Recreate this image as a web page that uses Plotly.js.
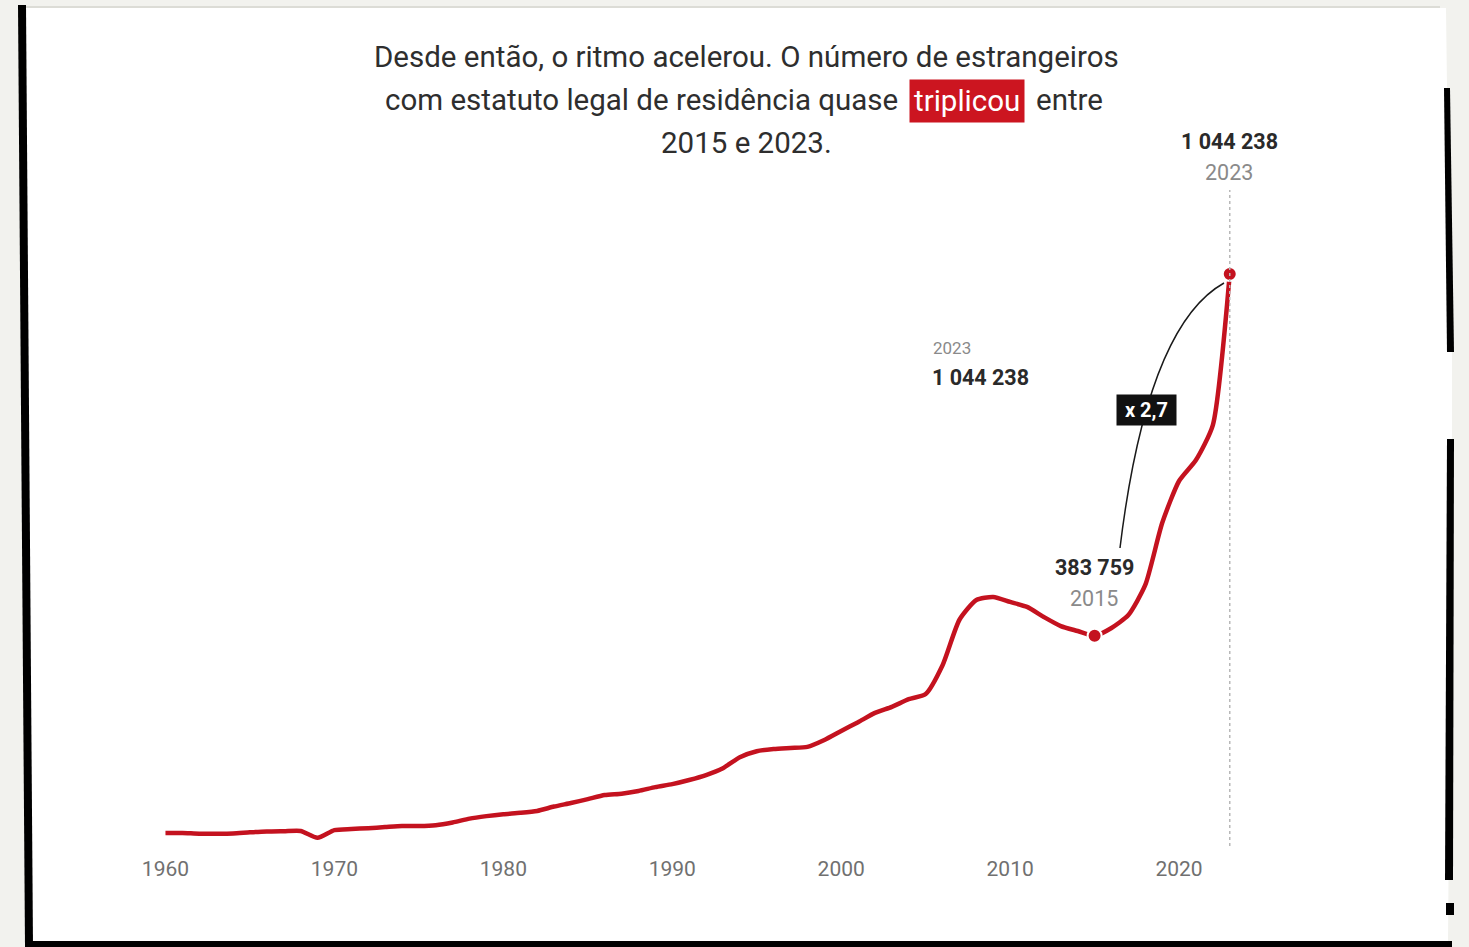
<!DOCTYPE html>
<html>
<head>
<meta charset="utf-8">
<script src="https://cdn.plot.ly/plotly-3.0.1.min.js"></script>
<style>
  html, body { margin: 0; padding: 0; background: #f2f2ee; }
  #chart { width: 1469px; height: 947px; }
</style>
</head>
<body>
<div id="chart"></div>
<script>
// ---- data ----
const years = [
  1960,1961,1962,1963,1964,1965,1966,1967,1968,1969,
  1970,1971,1972,1973,1974,1975,1976,1977,1978,1979,
  1980,1981,1982,1983,1984,1985,1986,1987,1988,1989,
  1990,1991,1992,1993,1994,1995,1996,1997,1998,1999,
  2000,2001,2002,2003,2004,2005,2006,2007,2008,2009,
  2010,2011,2012,2013,2014,2015,2016,2017,2018,2019,
  2020,2021,2022,2023
];
const foreigners = [
  23700,23700,22500,22500,23000,25000,26500,27000,27500,15000,
  29000,31000,32500,34500,36500,36500,38000,43000,50000,54500,
  58000,60500,64000,72000,78500,85500,93000,95500,100500,107500,
  113000,120500,129500,142000,162000,173000,177000,179000,181000,193500,
  210000,226000,243000,254000,268000,277500,330000,413000,449000,454500,
  445500,436500,418000,401500,392500,383759,398000,421700,476500,589600,
  666300,704600,768500,1044238
];
const tickYears = [1960,1970,1980,1990,2000,2010,2020];
const highlightYears = [2015, 2023];
const titleLine1 = "Desde então, o ritmo acelerou. O número de estrangeiros";
const titleLine2a = "com estatuto legal de residência quase";
const titleHighlight = "triplicou";
const titleLine2b = "entre";
const titleLine3 = "2015 e 2023.";
const ratioLabel = "x 2,7";

// ---- helpers ----
const W = 1469, H = 947;
const M = {l: 81, r: 121, t: 216, b: 93};
const PW = W - M.l - M.r, PH = H - M.t - M.b;
const px = x => (x - M.l) / PW;          // pixel x -> paper
const py = y => (H - M.b - y) / PH;      // pixel y -> paper
const fmt = v => String(Math.round(v)).replace(/\B(?=(\d{3})+(?!\d))/g, " ");
const valueOf = yr => foreigners[years.indexOf(yr)];

const FONT = "Roboto, Arial, sans-serif";
const RED = "#c4121f";

const hiVals = highlightYears.map(valueOf);

const traces = [
  {
    x: years, y: foreigners, type: "scatter", mode: "lines",
    line: {color: RED, width: 4.5, shape: "spline", smoothing: 0.6},
    hoverinfo: "x+y", showlegend: false
  },
  {
    x: highlightYears, y: hiVals, type: "scatter", mode: "markers",
    marker: {color: RED, size: 14, line: {color: "#ffffff", width: 2}},
    hoverinfo: "x+y", showlegend: false, cliponaxis: false
  }
];

function poly(pts, color) {
  return {
    type: "path", xref: "paper", yref: "paper", layer: "below",
    path: "M " + pts.map(p => px(p[0]) + "," + py(p[1])).join(" L ") + " Z",
    fillcolor: color, line: {width: 0}
  };
}

const shapes = [
  // white sheet
  poly([[26,8],[1446,8],[1447,88],[1452,352],[1452,438],[1448,941],[27,941]], "#ffffff"),
  // thin grey top edge
  poly([[26,6],[1440,6],[1440,8],[26,8]], "#dcdcd6"),
  // left black border
  poly([[18,5],[26,5],[33,947],[25,947]], "#000000"),
  // bottom black border
  poly([[25,941],[1452,941],[1452,947],[25,947]], "#000000"),
  // right black border pieces
  poly([[1444,88],[1450,88],[1454,352],[1447,352]], "#000000"),
  poly([[1447,439],[1454,439],[1453,880],[1445,880]], "#000000"),
  poly([[1446,903],[1454,903],[1454,915],[1446,915]], "#000000"),
  // dotted guide at the last year
  {
    type: "line", xref: "x", yref: "paper",
    x0: years[years.length - 1], x1: years[years.length - 1],
    y0: py(846), y1: py(190),
    line: {color: "#b8b8b8", width: 1.5, dash: "dot"}
  },
  // connector curve between 2015 and 2023 labels
  {
    type: "path", xref: "paper", yref: "paper",
    path: "M " + px(1120) + "," + py(548) + " Q " + px(1147) + "," + py(326) + " " + px(1224) + "," + py(283),
    line: {color: "#1a1a1a", width: 1.5}
  }
];

function ann(text, x, y, opts) {
  return Object.assign({
    text: text, xref: "paper", yref: "paper", x: px(x), y: py(y),
    xanchor: "center", yanchor: "middle", showarrow: false,
    font: {family: FONT, size: 29.5, color: "#2e2e2e"}
  }, opts || {});
}

const annotations = [
  ann(titleLine1, 746, 57),
  ann(titleLine2a, 900, 100, {xanchor: "right"}),
  ann(titleHighlight, 967, 101, {bgcolor: "#cc1520", borderpad: 4,
      font: {family: FONT, size: 29.5, color: "#ffffff"}}),
  ann(titleLine2b, 1034, 100, {xanchor: "left"}),
  ann(titleLine3, 746, 143),

  ann("<b>" + fmt(hiVals[1]) + "</b>", 1229, 141, {font: {family: FONT, size: 21.5, color: "#2a2a2a"}}),
  ann(String(highlightYears[1]), 1229, 172, {font: {family: FONT, size: 21.5, color: "#8a8a8a"}}),

  ann(String(highlightYears[1]), 931, 348, {xanchor: "left", font: {family: FONT, size: 17, color: "#8a8a8a"}}),
  ann("<b>" + fmt(hiVals[1]) + "</b>", 930, 377, {xanchor: "left", font: {family: FONT, size: 21.5, color: "#2a2a2a"}}),

  ann("<b>" + fmt(hiVals[0]) + "</b>", 1094, 567, {font: {family: FONT, size: 21.5, color: "#2a2a2a"}}),
  ann(String(highlightYears[0]), 1094, 598, {font: {family: FONT, size: 21.5, color: "#8a8a8a"}}),

  ann("<b>&nbsp;" + ratioLabel + "&nbsp;</b>", 1146, 410, {bgcolor: "#111111", borderpad: 3,
      font: {family: FONT, size: 20, color: "#ffffff"}})
];

const layout = {
  width: W, height: H, autosize: false,
  margin: {l: M.l, r: M.r, t: M.t, b: M.b, pad: 0},
  paper_bgcolor: "#f2f2ee", plot_bgcolor: "rgba(0,0,0,0)",
  showlegend: false,
  font: {family: FONT},
  xaxis: {
    range: [1955, 2030], tickvals: tickYears, ticktext: tickYears.map(String),
    showgrid: false, zeroline: false, showline: false, ticks: "",
    tickfont: {family: FONT, size: 21, color: "#707070"}, fixedrange: true
  },
  yaxis: {
    range: [-14604, 1150055], visible: false, showgrid: false, zeroline: false, fixedrange: true
  },
  shapes: shapes,
  annotations: annotations
};

Plotly.newPlot("chart", traces, layout, {displayModeBar: false, staticPlot: true});
</script>
</body>
</html>
